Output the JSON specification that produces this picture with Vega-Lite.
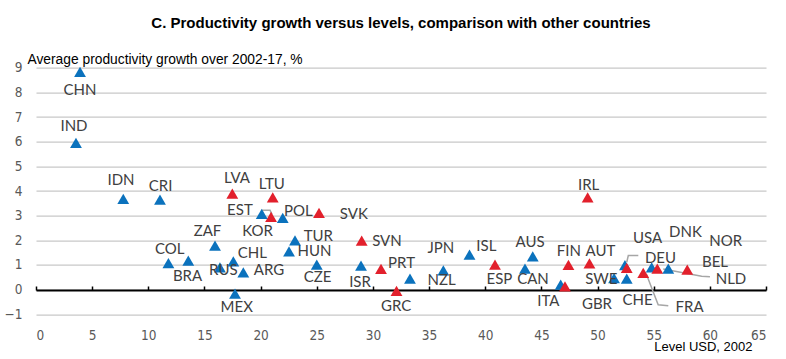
{
  "$schema": "https://vega.github.io/schema/vega-lite/v6.json",
  "width": 730,
  "height": 246.6,
  "autosize": {"type": "none"},
  "padding": {"left": 36, "top": 67.7, "right": 20, "bottom": 44.7},
  "background": "white",
  "title": {
    "text": "C. Productivity growth versus levels, comparison with other countries",
    "font": "Liberation Sans",
    "fontSize": 15,
    "fontWeight": "bold",
    "color": "#000000",
    "anchor": "middle",
    "offset": 22
  },
  "config": {"view": {"stroke": null}},
  "datasets": {
    "pts": [
      {"country": "CHN", "x": 3.92, "y": 8.83, "grp": "other", "lx": 3.92, "ly": 8.11},
      {"country": "IND", "x": 3.56, "y": 5.95, "grp": "other", "lx": 3.38, "ly": 6.62},
      {"country": "IDN", "x": 7.77, "y": 3.68, "grp": "other", "lx": 7.57, "ly": 4.46},
      {"country": "CRI", "x": 11.04, "y": 3.65, "grp": "other", "lx": 11.1, "ly": 4.19},
      {"country": "LVA", "x": 17.48, "y": 3.89, "grp": "euro", "lx": 17.9, "ly": 4.53},
      {"country": "LTU", "x": 21.08, "y": 3.74, "grp": "euro", "lx": 20.99, "ly": 4.29},
      {"country": "EST", "x": 20.93, "y": 2.95, "grp": "euro", "lx": 18.16, "ly": 3.24},
      {"country": "KOR", "x": 20.1, "y": 3.07, "grp": "other", "lx": 19.72, "ly": 2.36},
      {"country": "POL", "x": 21.97, "y": 2.91, "grp": "other", "lx": 23.36, "ly": 3.18},
      {"country": "SVK", "x": 25.2, "y": 3.11, "grp": "euro", "lx": 28.3, "ly": 3.07},
      {"country": "ZAF", "x": 15.94, "y": 1.78, "grp": "other", "lx": 15.27, "ly": 2.36},
      {"country": "TUR", "x": 23.06, "y": 2.0, "grp": "other", "lx": 25.14, "ly": 2.16},
      {"country": "HUN", "x": 22.53, "y": 1.55, "grp": "other", "lx": 24.8, "ly": 1.55},
      {"country": "CZE", "x": 25.0, "y": 1.01, "grp": "other", "lx": 25.07, "ly": 0.51},
      {"country": "CHL", "x": 17.57, "y": 1.15, "grp": "other", "lx": 19.26, "ly": 1.49},
      {"country": "RUS", "x": 16.38, "y": 0.9, "grp": "other", "lx": 16.68, "ly": 0.81},
      {"country": "ARG", "x": 18.46, "y": 0.7, "grp": "other", "lx": 20.75, "ly": 0.81},
      {"country": "COL", "x": 11.79, "y": 1.08, "grp": "other", "lx": 11.9, "ly": 1.66},
      {"country": "BRA", "x": 13.56, "y": 1.18, "grp": "other", "lx": 13.49, "ly": 0.54},
      {"country": "MEX", "x": 17.72, "y": -0.16, "grp": "other", "lx": 17.87, "ly": -0.72},
      {"country": "SVN", "x": 29.0, "y": 1.99, "grp": "euro", "lx": 31.25, "ly": 1.99},
      {"country": "ISR", "x": 28.94, "y": 0.97, "grp": "other", "lx": 28.85, "ly": 0.3},
      {"country": "PRT", "x": 30.72, "y": 0.84, "grp": "euro", "lx": 32.55, "ly": 1.08},
      {"country": "GRC", "x": 32.1, "y": -0.05, "grp": "euro", "lx": 32.06, "ly": -0.68},
      {"country": "NZL", "x": 33.3, "y": 0.45, "grp": "other", "lx": 36.12, "ly": 0.41},
      {"country": "JPN", "x": 36.27, "y": 0.78, "grp": "other", "lx": 36.05, "ly": 1.69},
      {"country": "ISL", "x": 38.6, "y": 1.42, "grp": "other", "lx": 40.1, "ly": 1.76},
      {"country": "ESP", "x": 40.87, "y": 1.01, "grp": "euro", "lx": 41.26, "ly": 0.43},
      {"country": "CAN", "x": 43.54, "y": 0.85, "grp": "other", "lx": 44.25, "ly": 0.43},
      {"country": "AUS", "x": 44.23, "y": 1.35, "grp": "other", "lx": 44.0, "ly": 1.92},
      {"country": "GBR", "x": 46.72, "y": 0.2, "grp": "other", "lx": 49.95, "ly": -0.57},
      {"country": "ITA", "x": 47.1, "y": 0.13, "grp": "euro", "lx": 45.62, "ly": -0.47},
      {"country": "FIN", "x": 47.41, "y": 1.0, "grp": "euro", "lx": 47.44, "ly": 1.55},
      {"country": "AUT", "x": 49.28, "y": 1.07, "grp": "euro", "lx": 50.26, "ly": 1.55},
      {"country": "IRL", "x": 49.12, "y": 3.74, "grp": "euro", "lx": 49.21, "ly": 4.26},
      {"country": "SWE", "x": 51.47, "y": 0.47, "grp": "other", "lx": 50.34, "ly": 0.43},
      {"country": "USA", "x": 52.44, "y": 0.99, "grp": "other", "lx": 54.45, "ly": 2.1},
      {"country": "DEU", "x": 52.6, "y": 0.88, "grp": "euro", "lx": 55.6, "ly": 1.28},
      {"country": "CHE", "x": 52.6, "y": 0.45, "grp": "other", "lx": 53.56, "ly": -0.41},
      {"country": "FRA", "x": 54.07, "y": 0.68, "grp": "euro", "lx": 58.19, "ly": -0.7},
      {"country": "DNK", "x": 54.82, "y": 0.9, "grp": "other", "lx": 57.83, "ly": 2.32},
      {"country": "NLD", "x": 55.32, "y": 0.85, "grp": "euro", "lx": 61.88, "ly": 0.43},
      {"country": "NOR", "x": 56.3, "y": 0.85, "grp": "other", "lx": 61.42, "ly": 1.96},
      {"country": "BEL", "x": 57.99, "y": 0.81, "grp": "euro", "lx": 60.46, "ly": 1.12}
    ],
    "leaders": [
      {"leader": "EST", "step": 1, "x": 20.12, "y": 3.22},
      {"leader": "EST", "step": 2, "x": 20.84, "y": 3.22},
      {"leader": "EST", "step": 3, "x": 21.01, "y": 3.05},
      {"leader": "DEU", "step": 1, "x": 52.6, "y": 1.11},
      {"leader": "DEU", "step": 2, "x": 52.74, "y": 1.38},
      {"leader": "DEU", "step": 3, "x": 53.63, "y": 1.38},
      {"leader": "FRA", "step": 1, "x": 54.36, "y": 0.61},
      {"leader": "FRA", "step": 2, "x": 55.4, "y": -0.61},
      {"leader": "FRA", "step": 3, "x": 56.3, "y": -0.65},
      {"leader": "NLD", "step": 1, "x": 55.85, "y": 0.84},
      {"leader": "NLD", "step": 2, "x": 59.27, "y": 0.54},
      {"leader": "NLD", "step": 3, "x": 60.01, "y": 0.52}
    ]
  },
  "layer": [
    {
      "data": {"name": "leaders"},
      "mark": {"type": "line", "color": "#a6a6a6", "strokeWidth": 1.5},
      "encoding": {
        "x": {
          "field": "x", "type": "quantitative",
          "scale": {"domain": [0, 65], "nice": false, "zero": false},
          "axis": {
            "orient": "top", "offset": -222.3, "labels": false, "grid": false, "title": null,
            "values": [0, 5, 10, 15, 20, 25, 30, 35, 40, 45, 50, 55, 60, 65],
            "tickCount": 20,
            "domain": true, "domainColor": "#000000", "domainWidth": 2,
            "ticks": true, "tickColor": "#000000", "tickWidth": 1.5, "tickSize": 4
          }
        },
        "y": {
          "field": "y", "type": "quantitative",
          "scale": {"domain": [-1, 9], "nice": false, "zero": false},
          "axis": {
            "values": [-1, 0, 1, 2, 3, 4, 5, 6, 7, 8, 9],
            "tickCount": 12,
            "labelOverlap": false,
            "grid": true, "gridColor": "#c8c8c8", "gridWidth": 1.3,
            "domain": false, "ticks": false,
            "labelFont": "Liberation Sans Narrow, Arial Narrow, DejaVu Sans Condensed, Liberation Sans, sans-serif",
            "labelFontSize": 13.5, "labelColor": "#595959", "labelPadding": 14,
            "title": "Average productivity growth over 2002-17, %",
            "titleFont": "Liberation Sans", "titleFontSize": 13.8, "titleFontWeight": "normal", "titleColor": "#000000",
            "titleAngle": 0, "titleAlign": "left", "titleBaseline": "alphabetic",
            "titleX": -9, "titleY": -4
          }
        },
        "detail": {"field": "leader"},
        "order": {"field": "step"}
      }
    },
    {
      "data": {"name": "pts"},
      "mark": {"type": "point", "shape": "triangle-up", "filled": true, "size": 140, "opacity": 1},
      "encoding": {
        "x": {
          "field": "x", "type": "quantitative",
          "axis": {
            "orient": "bottom",
            "values": [0, 5, 10, 15, 20, 25, 30, 35, 40, 45, 50, 55, 60, 65],
            "tickCount": 20,
            "labelOverlap": false,
            "grid": false, "domain": false, "ticks": false,
            "labelFont": "Liberation Sans Narrow, Arial Narrow, DejaVu Sans Condensed, Liberation Sans, sans-serif",
            "labelFontSize": 13.5, "labelColor": "#595959", "labelPadding": 14,
            "title": "Level USD, 2002",
            "titleFont": "Liberation Sans", "titleFontSize": 13, "titleFontWeight": "normal", "titleColor": "#000000",
            "titleAlign": "right", "titleAnchor": "end", "titleBaseline": "alphabetic",
            "titleX": 716, "titleY": 36
          }
        },
        "y": {"field": "y", "type": "quantitative"},
        "color": {
          "field": "grp", "type": "nominal",
          "scale": {"domain": ["euro", "other"], "range": ["#E2202C", "#0B72BD"]},
          "legend": null
        }
      }
    },
    {
      "data": {"name": "pts"},
      "mark": {"type": "text", "font": "Lato", "fontSize": 15, "color": "#404040", "align": "center", "baseline": "middle"},
      "encoding": {
        "x": {"field": "lx", "type": "quantitative", "axis": null},
        "y": {"field": "ly", "type": "quantitative"},
        "text": {"field": "country"}
      }
    }
  ],
  "resolve": {"axis": {"x": "independent"}}
}
